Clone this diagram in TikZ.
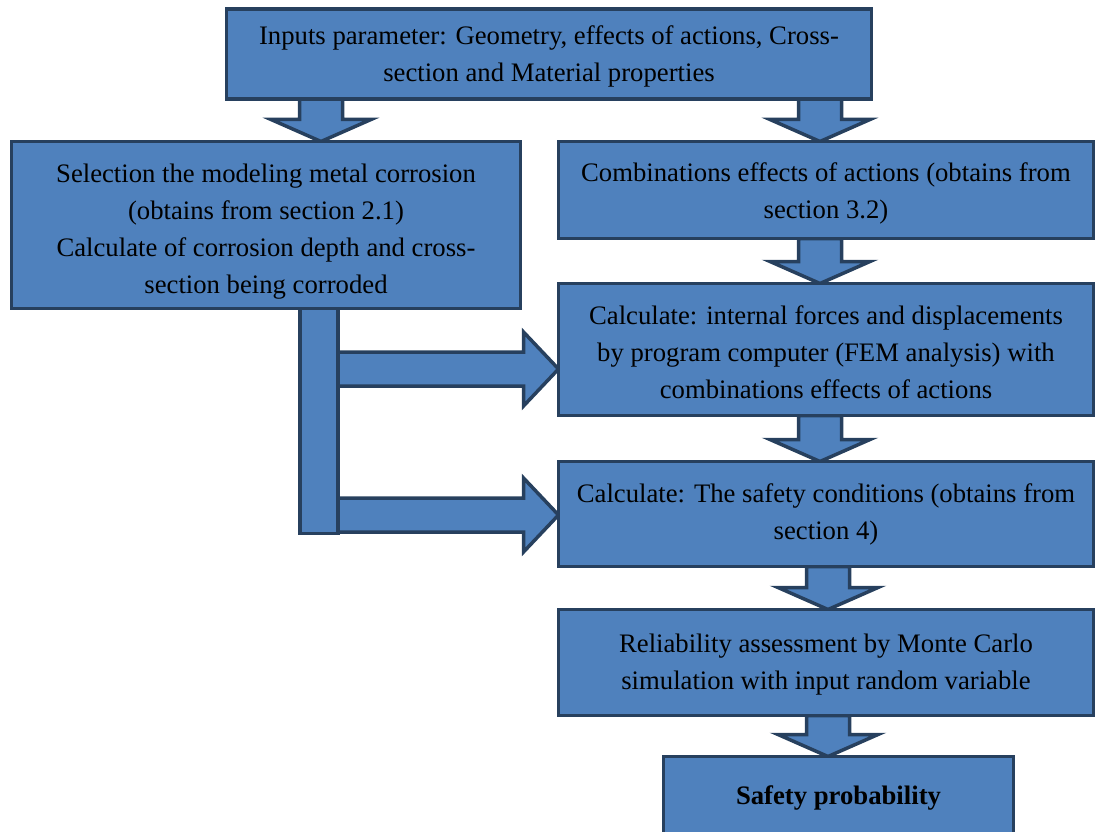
\documentclass[tikz,border=0pt]{standalone}
\usepackage{fontspec}
\setmainfont{Liberation Serif}
\usepackage{xcolor}
\definecolor{boxfill}{HTML}{4F81BD}
\definecolor{boxline}{HTML}{27405E}
\usetikzlibrary{calc,backgrounds}

% block arrow pointing down: #1 column, #2 upper node, #3 lower node
\newcommand{\downblock}[3]{%
	\draw[blockarrow]
	($(#2.south -| #1)+(-21.5,0)$) -- ($(#2.south -| #1)+(21.5,0)$)
	-- ($(#3.north -| #1)+(21.5,-22)$) -- ($(#3.north -| #1)+(50,-22)$)
	-- (#3.north -| #1)
	-- ($(#3.north -| #1)+(-50,-22)$) -- ($(#3.north -| #1)+(-21.5,-22)$)
	-- cycle;}

% block arrow pointing right: #1 row, #2 left node, #3 right node
\newcommand{\rightblock}[3]{%
	\draw[blockarrow]
	($(#2.east |- #1)+(0,-17)$) -- ($(#3.west |- #1)+(-35,-17)$)
	-- ($(#3.west |- #1)+(-35,-37)$)
	-- (#3.west |- #1)
	-- ($(#3.west |- #1)+(-35,37)$) -- ($(#3.west |- #1)+(-35,17)$)
	-- ($(#2.east |- #1)+(0,17)$)
	-- cycle;}

% taller first line, pushes the text of a box down by #1
\newcommand{\dropby}[1]{\rule{0pt}{\dimexpr 18.5pt+2\dimexpr #1\relax\relax}}

\begin{document}
\begin{tikzpicture}[
	x=1pt, y=-1pt,
	box/.style={
		draw=boxline,
		fill=boxfill,
		line width=3.5pt,
		align=center,
		inner sep=0pt,
		outer sep=0pt,
		font=\fontsize{26.7}{37}\selectfont
	},
	blockarrow/.style={
		draw=boxline,
		fill=boxfill,
		line width=3.5pt,
		line join=miter
	}
	]

	\useasboundingbox (0,0) rectangle (1097,832);

	% ================= Columns and rows of the block arrows =================
	\coordinate (colL) at (321,0);
	\coordinate (colR) at (820,0);
	\coordinate (colP) at (828,0);
	\coordinate (colB) at (319,0);
	\coordinate (rowA) at (0,369);
	\coordinate (rowB) at (0,515);

	% ================= Boxes =================
	\node[box, minimum width=645pt, minimum height=90pt] (inputs) at (549,54)
	{\dropby{3pt}Inputs parameter: Geometry, effects of actions, Cross-\\
		section and Material properties};

	\node[box, minimum width=509pt, minimum height=167pt] (sel) at (266,225)
	{\dropby{7pt}Selection the modeling metal corrosion\\
		(obtains from section 2.1)\\
		Calculate of corrosion depth and cross-\\
		section being corroded};

	\node[box, minimum width=535pt, minimum height=97pt] (comb) at (826,190)
	{\dropby{3.5pt}Combinations effects of actions (obtains from\\
		section 3.2)};

	\node[box, minimum width=535pt, minimum height=132pt] (fem) at (826,349.5)
	{\dropby{3pt}Calculate: internal forces and displacements\\
		by program computer (FEM analysis) with\\
		combinations effects of actions};

	\node[box, minimum width=535pt, minimum height=105pt] (safe) at (826,514)
	{\dropby{1pt}Calculate: The safety conditions (obtains from\\
		section 4)};

	\node[box, minimum width=535pt, minimum height=106pt] (rel) at (826,662.5)
	{\dropby{2.5pt}Reliability assessment by Monte Carlo\\
		simulation with input random variable};

	\node[box, minimum width=350pt, minimum height=82pt] (prob) at (838.5,797.5)
	{\textbf{Safety probability}};

	\node[box, minimum width=38pt, minimum height=225pt, anchor=north] (bar)
	at (sel.south -| colB) {};

	% ================= Block arrows =================
	\begin{scope}[on background layer]
		\downblock{colL}{inputs}{sel}
		\downblock{colR}{inputs}{comb}
		\downblock{colR}{comb}{fem}
		\downblock{colR}{fem}{safe}
		\downblock{colP}{safe}{rel}
		\downblock{colP}{rel}{prob}

		\rightblock{rowA}{bar}{fem}
		\rightblock{rowB}{bar}{safe}
	\end{scope}

\end{tikzpicture}
\end{document}
